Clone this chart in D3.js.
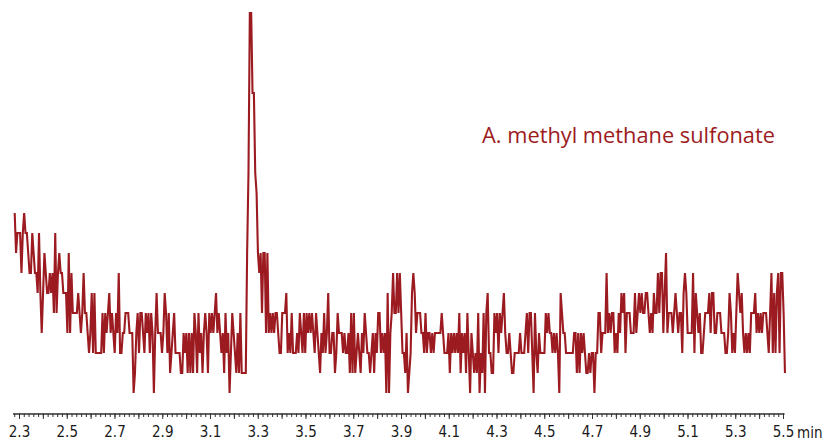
<!DOCTYPE html>
<html>
<head>
<meta charset="utf-8">
<script src="https://cdn.jsdelivr.net/npm/d3@7"></script>
<style>
  html, body { margin: 0; padding: 0; background: #fff; }
  svg { display: block; }
</style>
</head>
<body>
<svg id="chart" width="824" height="440"></svg>
<script>
// ---- data (detector counts, uniformly sampled) ----
const startTime = 2.282;        // min
const sampleInterval = 0.00566; // min
const intensityA = [9,7,8,8,8,6,8,9,8,8,7,6,6,8,7,6,6,5,8,5,3,5,7,6,5,5,6,5,6,4,8,4,6,7,6,6,5,5,5,3,7,3,6,4,4,4,4,5,4,3,4,6,4,4,3,2,3,5,2,5,2,2,2,2,2,4,2,4,3,4,5,3,4,3,2,4,3,6,2,2,3,3,4,4,4,3,3,3,0,1,3,4];
const intensityB = [2,4,4,3,2,4,3,4,2,4,3,0,3,5,3,3,3,2,3,5,4,2,4,1,2,3,4,2,2,2,2,1,1,3,2,3,1,3,1,3,1,4,3,1,4,2,3,1,3,4,3,1,4,3,4,3,4,5,3,4,3,2,3,1,4,2,3,0,2,4,3,2,1,3,1,4,1,1,1,1];
const intensityPeak = [7,11,19,19,15,15,11,10,7,6,7,4,7,7,3,7];
const intensityC = [3,4,3,4,3,4,4,3,2,2,4,4,4,5,2,3,2,4,2,2,2,3,2,4,3,2,4,2,4,3,4,3,4,3,2,4,3,2,1,3,2,4,2,3,5,2,2,3,3,1,2,4,3,3,3,2,3,2,2,3,1,4,1,4,1,2,3,2,1,3,2,4,3,2,2,1,2,3,1,3,2,4,4,2,3,2,3,0,5,0,3,4,6,4,4,6];
const intensityD = [4,6,4,2,2,1,3,0,1,2,5,6,5,3,4,4,4,3,3,2,4,2,3,3,2,3,2,3,3,3,3,3,4,3,2,2,2,3,1,3,2,3,2,3,2,4,1,3,2,3,1,4,2,0,3,2,1,2,1,4,0,2,1,4,0,4,5,2,2,1,1,4,3,4,2,4,3,4,5,3,2,2,3,2,1,1,2,2,2,2,3,2,2,2,3,4];
const intensityE = [2,4,4,2,0,4,2,1,3,2,2,2,2,4,3,4,3,3,2,3,2,3,2,0,5,4,3,3,2,2,2,2,2,2,3,3,1,3,1,3,2,3,2,1,1,2,1,2,2,0,2,2,4,4,2,3,3,3,6,3,4,3,4,4,2,3,2,4,3,5,4,5,2,4,4,4,3,3,3,5,3,4,5,4,5,4,4,5,5,4,3,4,3,5,4,4,6];
const intensityF = [4,6,6,3,5,7,3,4,4,4,3,4,5,4,3,4,4,2,5,6,5,3,3,3,3,6,2,5,4,3,4,2,2,3,4,4,4,5,3,5,5,3,3,4,4,4,3,3,3,2,2,3,5,4,2,3,2,4,6,5,4,5,3,2,3,2,3,2,4,4,4,5,3,4,3,4,3,4,4,4,3,2,4,6,2,5,2,5,6,2,6,6,4,1];
const tickLabels = ["2.3","2.5","2.7","2.9","3.1","3.3","3.5","3.7","3.9","4.1","4.3","4.5","4.7","4.9","5.1","5.3","5.5"];
const unitLabel = "min";
const traceLabel = "A. methyl methane sulfonate";

// ---- build ----
const intensity = [].concat(intensityA, intensityB, intensityPeak, intensityC, intensityD, intensityE, intensityF);
const data = intensity.map((v, i) => ({ t: startTime + i * sampleInterval, v }));

const color = "#9c1b21";
const svg = d3.select("#chart");

const x = d3.scaleLinear().domain([2.273, 5.504]).range([12.55, 783.96]);
const y = d3.scaleLinear().domain([0, 19]).range([393, 13]);

const line = d3.line().x(d => x(d.t)).y(d => y(d.v));

svg.append("path")
  .datum(data)
  .attr("d", line)
  .attr("fill", "none")
  .attr("stroke", color)
  .attr("stroke-width", 2.1)
  .attr("stroke-linejoin", "miter");

// axis
const axisY = 413.5;
const minorVals = d3.range(228, 551, 2).map(d => d / 100);
const majorVals = d3.range(23, 56).map(d => d / 10);
const labelSet = new Set(tickLabels);

const gMinor = svg.append("g").attr("transform", `translate(0,${axisY})`)
  .call(d3.axisBottom(x).tickValues(minorVals).tickSize(3.5).tickSizeOuter(0).tickFormat(""));
const gMajor = svg.append("g").attr("transform", `translate(0,${axisY})`)
  .call(d3.axisBottom(x).tickValues(majorVals).tickSize(5.5).tickSizeOuter(0).tickPadding(7)
    .tickFormat(d => { const s = d.toFixed(1); return labelSet.has(s) ? s : ""; }));

[gMinor, gMajor].forEach(g => {
  g.selectAll("path.domain").attr("stroke", "#333").attr("stroke-width", 1.2);
  g.selectAll(".tick line").attr("stroke", "#333").attr("stroke-width", 1);
});
gMajor.selectAll(".tick text")
  .attr("font-family", "'Liberation Sans Narrow', 'DejaVu Sans Condensed', 'Roboto', sans-serif")
  .attr("font-size", 15)
  .attr("fill", "#1a1a1a");

svg.append("text")
  .attr("x", 797).attr("y", 437.5)
  .attr("font-family", "'Liberation Sans Narrow', 'DejaVu Sans Condensed', 'Roboto', sans-serif")
  .attr("font-size", 15)
  .attr("fill", "#1a1a1a")
  .text(unitLabel);

svg.append("text")
  .attr("x", 775).attr("y", 143)
  .attr("text-anchor", "end")
  .attr("font-family", "'Open Sans', 'Noto Sans', sans-serif")
  .attr("font-size", 21.8)
  .attr("fill", color)
  .text(traceLabel);
</script>
</body>
</html>
